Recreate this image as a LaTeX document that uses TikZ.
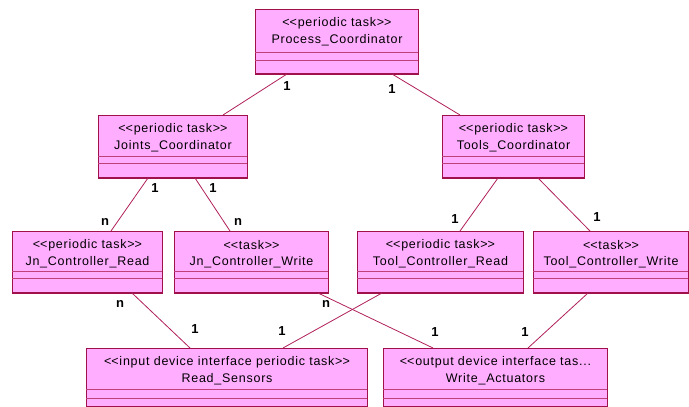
\documentclass[tikz,border=0pt]{standalone}
\usepackage{fontspec}
\setmainfont{Liberation Sans}
\usetikzlibrary{calc}
\definecolor{boxfill}{HTML}{FFADFF}
\definecolor{boxline}{HTML}{A0104A}
\definecolor{sepcol}{HTML}{C0407A}
\definecolor{conncol}{HTML}{B0205A}
\newcommand\stL{<\kern0pt<}
\newcommand\stR{>\kern0pt>}
\tikzset{
  clsbox/.style={draw=boxline, fill=boxfill, line width=1pt, inner sep=0pt, anchor=north west},
  clstext/.style={font=\fontsize{12.5}{14}\selectfont\addfontfeature{LetterSpace=6}, inner sep=0pt},
  sepline/.style={draw=sepcol, line width=0.8pt},
  botline/.style={draw=boxline, line width=1.5pt},
  connline/.style={draw=conncol, line width=0.8pt},
  mult/.style={font=\fontsize{13}{15}\selectfont\bfseries, inner sep=0pt},
}
\newcommand\umlcls[9]{%
  \node[clsbox, minimum width={#4-#2}, minimum height={#5-#3}] (#1) at (#2,#3) {};
  \draw[sepline] (#2,#6) -- (#4,#6);
  \draw[sepline] (#2,#7) -- (#4,#7);
  \draw[botline] (#1.south west) -- (#1.south east);
  \node[clstext] (#1-st) at ($(#1.north)+(0,14.5)$) {#8};
  \node[clstext] (#1-nm) at ($(#1.north)+(0,31.5)$) {#9};
}
\begin{document}
\begin{tikzpicture}[x=1pt,y=-1pt]
\fill[white] (0,0) rectangle (689,407);
\useasboundingbox (0,0) rectangle (689,407);

\umlcls{pc}{255}{9}{418}{73}{52}{60}{\stL periodic task\stR}{Process\_Coordinator}
\umlcls{jc}{98}{115}{247}{177}{156}{163}{\stL periodic task\stR}{Joints\_Coordinator}
\umlcls{tc}{442}{115}{584}{177}{156}{163}{\stL periodic task\stR}{Tools\_Coordinator}
\umlcls{jr}{12}{231}{162}{292}{271}{278}{\stL periodic task\stR}{Jn\_Controller\_Read}
\umlcls{jw}{174}{231}{328}{292}{271}{278}{\stL task\stR}{Jn\_Controller\_Write}
\umlcls{tr}{357}{231}{523}{292}{271}{278}{\stL periodic task\stR}{Tool\_Controller\_Read}
\umlcls{tw}{533}{231}{688}{292}{271}{278}{\stL task\stR}{Tool\_Controller\_Write}
\umlcls{rs}{86}{348}{367}{406}{389}{398}{\stL input device interface periodic task\stR}{Read\_Sensors}
\umlcls{wa}{383}{348}{607}{406}{389}{398}{\stL output device interface tas...}{Write\_Actuators}

\draw[connline] ($(pc.south west)+(32,0)$) -- ($(jc.north west)+(125,0)$);
\draw[connline] ($(pc.south west)+(137,0)$) -- ($(tc.north west)+(18,0)$);
\draw[connline] ($(jc.south west)+(50,0)$) -- ($(jr.north west)+(99,0)$);
\draw[connline] ($(jc.south west)+(97,0)$) -- ($(jw.north west)+(56,0)$);
\draw[connline] ($(tc.south west)+(56,0)$) -- ($(tr.north west)+(103,0)$);
\draw[connline] ($(tc.south west)+(96,0)$) -- ($(tw.north west)+(57,0)$);
\draw[connline] ($(jr.south west)+(120,0)$) -- ($(rs.north west)+(104,0)$);
\draw[connline] ($(tr.south west)+(25,0)$) -- ($(rs.north west)+(197,0)$);
\draw[connline] ($(jw.south west)+(144,0)$) -- ($(wa.north west)+(50,0)$);
\draw[connline] ($(tw.south west)+(55,0)$) -- ($(wa.north west)+(145,0)$);

\node[mult] (m1) at (287,86) {1};
\node[mult] (m2) at (392,89) {1};
\node[mult] (m3) at (155,188) {1};
\node[mult] (m4) at (105,222) {n};
\node[mult] (m5) at (213,188) {1};
\node[mult] (m6) at (238,222) {n};
\node[mult] (m7) at (455,219) {1};
\node[mult] (m8) at (597,217) {1};
\node[mult] (m9) at (120,304) {n};
\node[mult] (m10) at (195,329) {1};
\node[mult] (m11) at (282,331) {1};
\node[mult] (m12) at (326,304) {n};
\node[mult] (m13) at (435,332) {1};
\node[mult] (m14) at (525,332) {1};
\end{tikzpicture}
\end{document}
